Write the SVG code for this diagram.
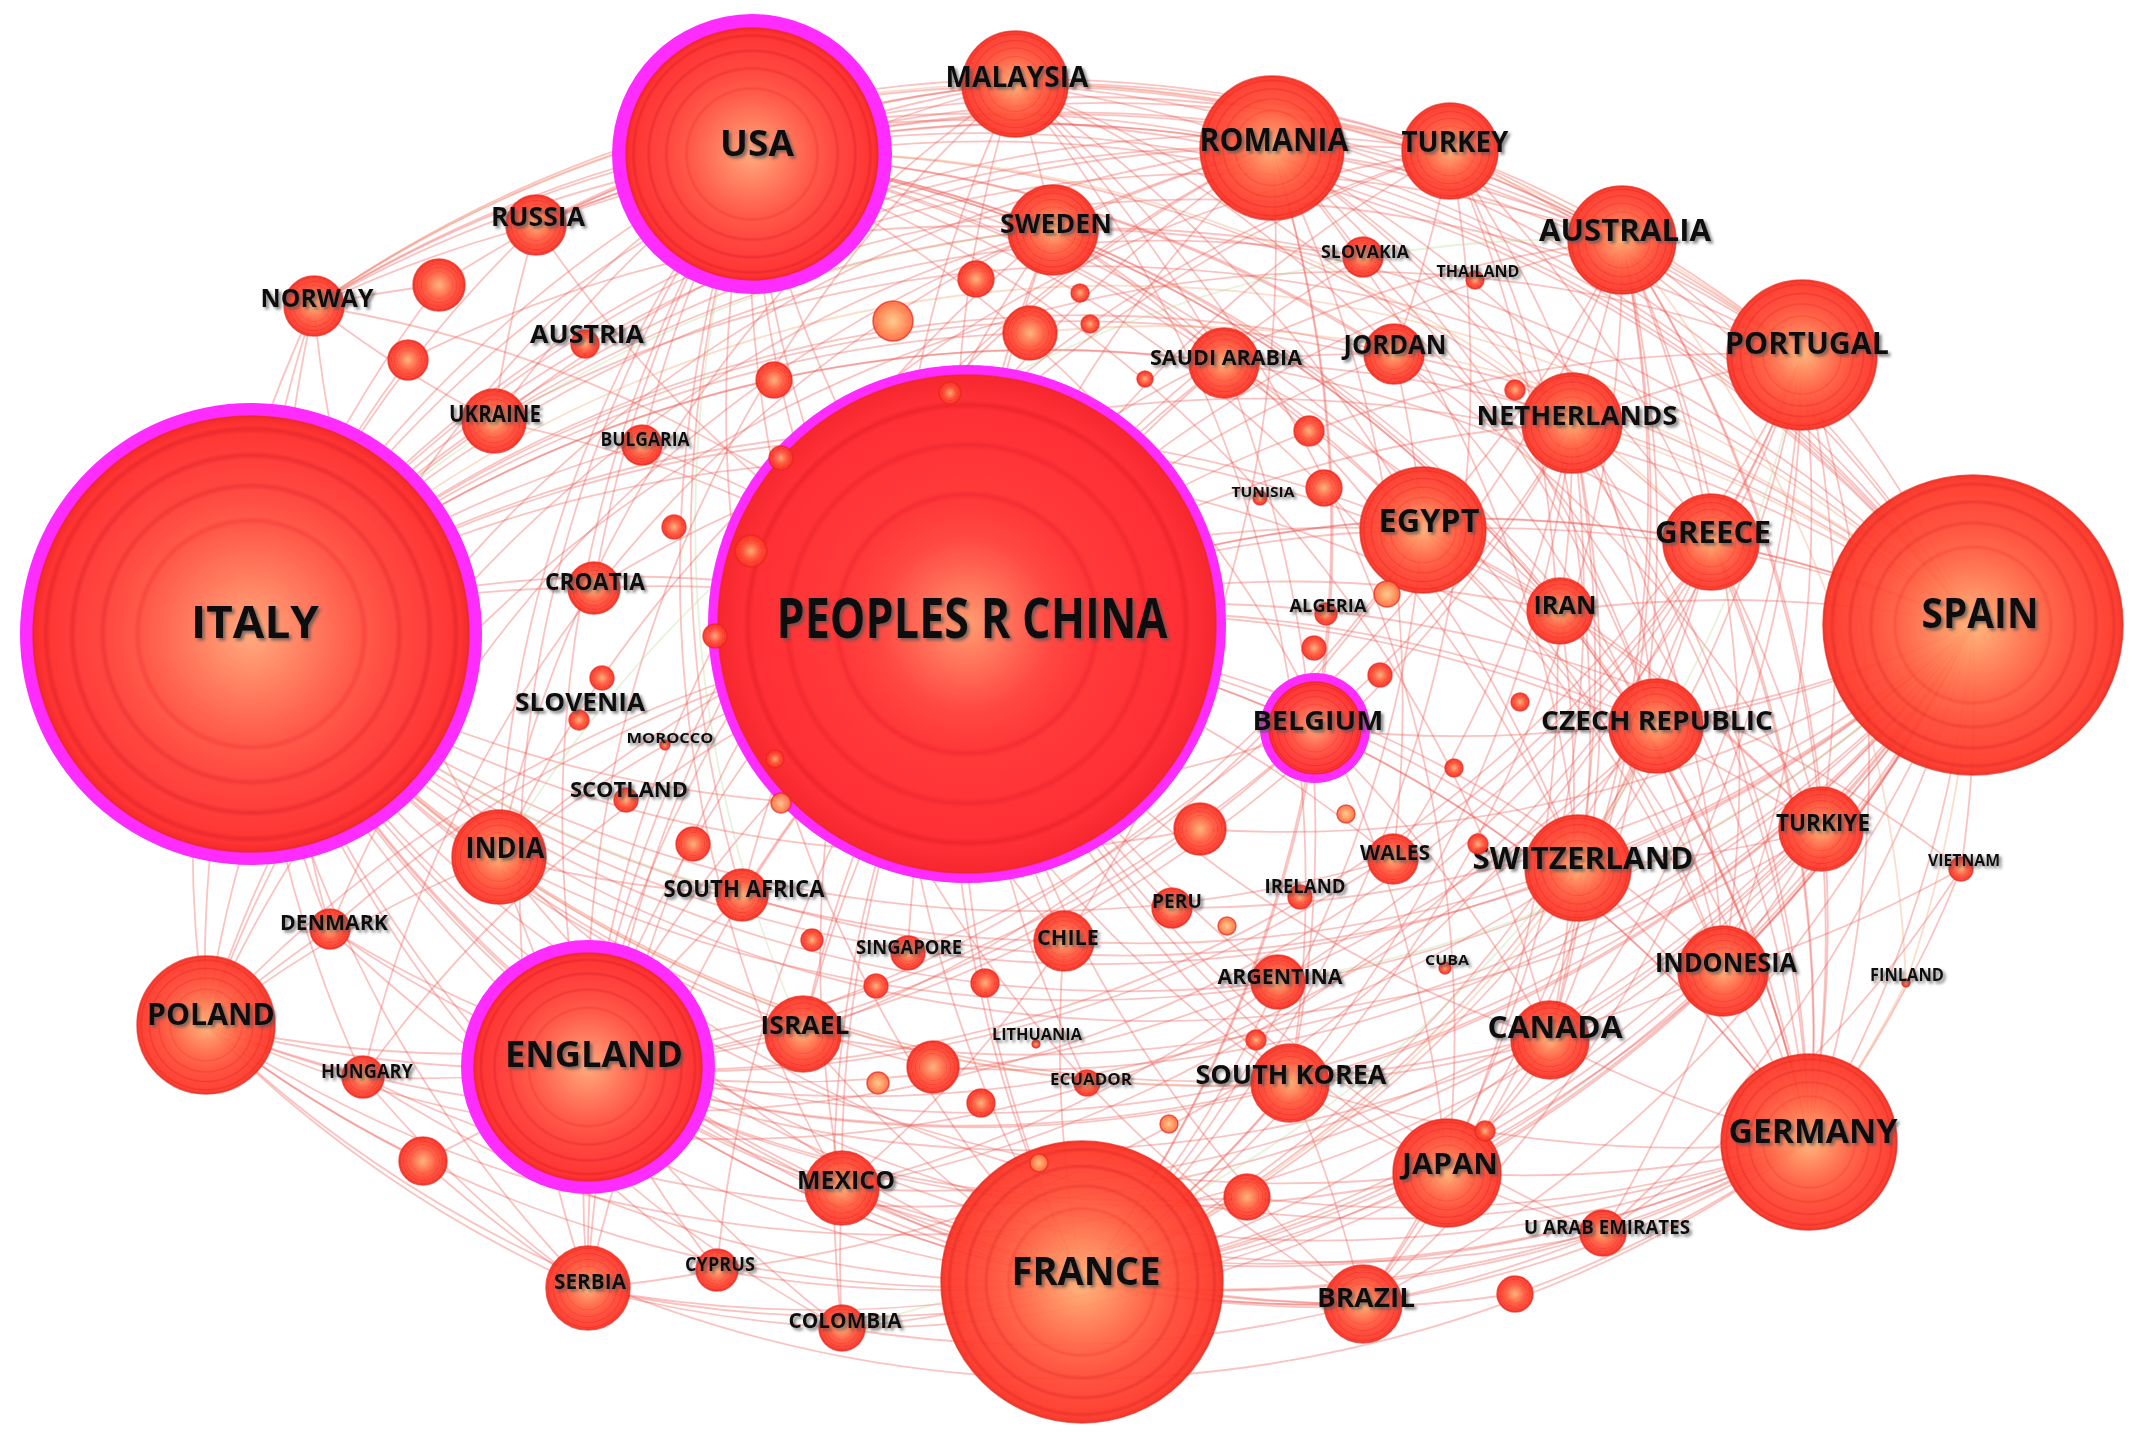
<svg xmlns="http://www.w3.org/2000/svg" width="2139" height="1443" viewBox="0 0 2139 1443">
<defs>
<style>
.e path{fill:none;stroke:#ee5a52;stroke-opacity:.36;stroke-width:1.8}
.e path.o{stroke:#f5a26e}
.e path.g{stroke:#b9dc98}
.n circle{fill:url(#gn);fill-opacity:.94;stroke:#e8281c;stroke-width:1.5;stroke-opacity:.7}
.n circle.m{fill:#ff2cff;fill-opacity:1;stroke:none}
.n circle.c{fill:url(#gc);fill-opacity:.92}
.n circle.or{fill:url(#go)}
.n text{font-family:"Open Sans","DejaVu Sans",sans-serif;font-weight:700;fill:#111;text-anchor:middle;filter:url(#sh)}
</style>
<radialGradient id="gn">
<stop offset="0" stop-color="#ffb47a"/>
<stop offset=".1" stop-color="#ffa06a"/>
<stop offset=".25" stop-color="#ff8558"/>
<stop offset=".4" stop-color="#ff6c48"/>
<stop offset=".5" stop-color="#ff5c3e"/>
<stop offset=".52" stop-color="#f94a34"/>
<stop offset=".54" stop-color="#ff5a3d"/>
<stop offset=".66" stop-color="#ff4b35"/>
<stop offset=".68" stop-color="#f23a2a"/>
<stop offset=".7" stop-color="#ff4832"/>
<stop offset=".8" stop-color="#ff4030"/>
<stop offset=".82" stop-color="#ee3024"/>
<stop offset=".84" stop-color="#ff3e2e"/>
<stop offset=".92" stop-color="#ff3828"/>
<stop offset=".94" stop-color="#ec2a20"/>
<stop offset=".96" stop-color="#ff3526"/>
<stop offset="1" stop-color="#f02a1e"/>
</radialGradient>
<radialGradient id="gc">
<stop offset="0" stop-color="#ffa866"/>
<stop offset=".1" stop-color="#ff8a55"/>
<stop offset=".22" stop-color="#ff6a45"/>
<stop offset=".35" stop-color="#ff4a32"/>
<stop offset=".5" stop-color="#ff3a28"/>
<stop offset=".52" stop-color="#f52e22"/>
<stop offset=".54" stop-color="#ff3a28"/>
<stop offset=".7" stop-color="#ff3526"/>
<stop offset=".72" stop-color="#f22a1e"/>
<stop offset=".74" stop-color="#ff3426"/>
<stop offset=".86" stop-color="#ff3024"/>
<stop offset=".88" stop-color="#ee251a"/>
<stop offset=".9" stop-color="#ff3024"/>
<stop offset="1" stop-color="#f5261c"/>
</radialGradient>
<radialGradient id="go">
<stop offset="0" stop-color="#ffc888"/>
<stop offset=".5" stop-color="#ff9a60"/>
<stop offset="1" stop-color="#ff6a40"/>
</radialGradient>
<filter id="sh" x="-10%" y="-30%" width="125%" height="170%">
<feDropShadow dx="2.5" dy="2.5" stdDeviation="1.4" flood-color="#555" flood-opacity=".75"/>
</filter>
</defs>
<rect width="2139" height="1443" fill="#fff"/>
<g id="connectors" class="e">
<path d="M251 634A1250 1250 0 0 1 967 624"/>
<path d="M967 624A1250 1250 0 0 1 752 154"/>
<path d="M967 624A1250 1250 0 0 1 1973 625"/>
<path d="M1083 1282A1250 1250 0 0 1 967 624"/>
<path d="M588 1067A1250 1250 0 0 1 967 624"/>
<path d="M967 624A1250 1250 0 0 1 1809 1142"/>
<path d="M967 624A1250 1250 0 0 1 1315 728"/>
<path d="M967 624A1250 1250 0 0 1 1272 148"/>
<path d="M967 624A1250 1250 0 0 1 1802 355"/>
<path d="M967 624A1250 1250 0 0 1 1423 530"/>
<path d="M967 624A1250 1250 0 0 1 1622 240"/>
<path d="M967 624A1250 1250 0 0 1 1015 84"/>
<path d="M967 624A1250 1250 0 0 1 1450 151"/>
<path d="M967 624A1250 1250 0 0 1 1053 229"/>
<path d="M967 624A1250 1250 0 0 1 1572 423"/>
<path d="M967 624A1250 1250 0 0 1 1711 542"/>
<path d="M967 624A1250 1250 0 0 1 1560 611"/>
<path d="M967 624A1250 1250 0 0 1 1656 726"/>
<path d="M967 624A1250 1250 0 0 1 1578 868"/>
<path d="M967 624A1250 1250 0 0 1 1821 829"/>
<path d="M967 624A1250 1250 0 0 1 1723 971"/>
<path d="M1550 1040A1250 1250 0 0 1 967 624"/>
<path d="M1447 1173A1250 1250 0 0 1 967 624"/>
<path d="M1363 1304A1250 1250 0 0 1 967 624"/>
<path d="M1290 1083A1250 1250 0 0 1 967 624"/>
<path d="M206 1025A1250 1250 0 0 1 967 624"/>
<path d="M499 857A1250 1250 0 0 1 967 624"/>
<path d="M967 624A1250 1250 0 0 1 536 225"/>
<path d="M314 306A1250 1250 0 0 1 967 624"/>
<path d="M494 421A1250 1250 0 0 1 967 624"/>
<path d="M842 1188A1250 1250 0 0 1 967 624"/>
<path d="M803 1034A1250 1250 0 0 1 967 624"/>
<path d="M588 1288A1250 1250 0 0 1 967 624"/>
<path d="M967 624A1250 1250 0 0 1 1224 363"/>
<path d="M967 624A1250 1250 0 0 1 1394 354"/>
<path d="M1064 941A1250 1250 0 0 1 967 624"/>
<path d="M1278 982A1250 1250 0 0 1 967 624"/>
<path d="M742 895A1250 1250 0 0 1 967 624"/>
<path d="M594 588A1250 1250 0 0 1 967 624"/>
<path d="M642 445A1250 1250 0 0 1 967 624"/>
<path d="M967 624A1250 1250 0 0 1 1363 257"/>
<path d="M967 624A1250 1250 0 0 1 1393 859"/>
<path d="M1172 908A1250 1250 0 0 1 967 624"/>
<path d="M363 1077A1250 1250 0 0 1 967 624"/>
<path d="M330 929A1250 1250 0 0 1 967 624"/>
<path d="M842 1328A1250 1250 0 0 1 967 624"/>
<path d="M717 1270A1250 1250 0 0 1 967 624"/>
<path d="M1603 1233A1250 1250 0 0 1 967 624"/>
<path d="M967 624A1250 1250 0 0 1 1961 869"/>
<path d="M908 953A1250 1250 0 0 1 967 624"/>
<path d="M1087 1083A1250 1250 0 0 1 967 624"/>
<path d="M251 634A1250 1250 0 0 1 752 154"/>
<path class="o" d="M251 634A1250 1250 0 0 1 1973 625"/>
<path d="M1083 1282A1250 1250 0 0 1 251 634"/>
<path d="M588 1067A1250 1250 0 0 1 251 634"/>
<path d="M1809 1142A1250 1250 0 0 1 251 634"/>
<path d="M1315 728A1250 1250 0 0 1 251 634"/>
<path d="M251 634A1250 1250 0 0 1 1272 148"/>
<path d="M251 634A1250 1250 0 0 1 1802 355"/>
<path d="M251 634A1250 1250 0 0 1 1423 530"/>
<path d="M251 634A1250 1250 0 0 1 1622 240"/>
<path d="M251 634A1250 1250 0 0 1 1015 84"/>
<path d="M251 634A1250 1250 0 0 1 1450 151"/>
<path class="g" d="M251 634A1250 1250 0 0 1 1053 229"/>
<path d="M251 634A1250 1250 0 0 1 1572 423"/>
<path d="M251 634A1250 1250 0 0 1 1711 542"/>
<path d="M251 634A1250 1250 0 0 1 1560 611"/>
<path d="M251 634A1250 1250 0 0 1 1656 726"/>
<path d="M1578 868A1250 1250 0 0 1 251 634"/>
<path d="M1821 829A1250 1250 0 0 1 251 634"/>
<path d="M1723 971A1250 1250 0 0 1 251 634"/>
<path d="M1550 1040A1250 1250 0 0 1 251 634"/>
<path d="M1447 1173A1250 1250 0 0 1 251 634"/>
<path d="M1363 1304A1250 1250 0 0 1 251 634"/>
<path class="o" d="M1290 1083A1250 1250 0 0 1 251 634"/>
<path d="M206 1025A1250 1250 0 0 1 251 634"/>
<path d="M499 857A1250 1250 0 0 1 251 634"/>
<path d="M251 634A1250 1250 0 0 1 536 225"/>
<path d="M251 634A1250 1250 0 0 1 314 306"/>
<path d="M251 634A1250 1250 0 0 1 494 421"/>
<path d="M842 1188A1250 1250 0 0 1 251 634"/>
<path d="M803 1034A1250 1250 0 0 1 251 634"/>
<path d="M588 1288A1250 1250 0 0 1 251 634"/>
<path d="M251 634A1250 1250 0 0 1 1224 363"/>
<path d="M251 634A1250 1250 0 0 1 1394 354"/>
<path d="M1064 941A1250 1250 0 0 1 251 634"/>
<path d="M1278 982A1250 1250 0 0 1 251 634"/>
<path class="g" d="M742 895A1250 1250 0 0 1 251 634"/>
<path d="M251 634A1250 1250 0 0 1 594 588"/>
<path d="M251 634A1250 1250 0 0 1 642 445"/>
<path d="M251 634A1250 1250 0 0 1 1363 257"/>
<path d="M1393 859A1250 1250 0 0 1 251 634"/>
<path d="M363 1077A1250 1250 0 0 1 251 634"/>
<path d="M330 929A1250 1250 0 0 1 251 634"/>
<path d="M842 1328A1250 1250 0 0 1 251 634"/>
<path d="M717 1270A1250 1250 0 0 1 251 634"/>
<path d="M1603 1233A1250 1250 0 0 1 251 634"/>
<path d="M752 154A1250 1250 0 0 1 1973 625"/>
<path d="M1973 625A1250 1250 0 0 1 1083 1282"/>
<path d="M1973 625A1250 1250 0 0 1 588 1067"/>
<path d="M1973 625A1250 1250 0 0 1 1809 1142"/>
<path d="M1973 625A1250 1250 0 0 1 1315 728"/>
<path d="M1272 148A1250 1250 0 0 1 1973 625"/>
<path d="M1802 355A1250 1250 0 0 1 1973 625"/>
<path d="M1423 530A1250 1250 0 0 1 1973 625"/>
<path d="M1622 240A1250 1250 0 0 1 1973 625"/>
<path d="M1015 84A1250 1250 0 0 1 1973 625"/>
<path d="M1450 151A1250 1250 0 0 1 1973 625"/>
<path d="M1053 229A1250 1250 0 0 1 1973 625"/>
<path class="o" d="M1572 423A1250 1250 0 0 1 1973 625"/>
<path d="M1711 542A1250 1250 0 0 1 1973 625"/>
<path d="M1560 611A1250 1250 0 0 1 1973 625"/>
<path d="M1973 625A1250 1250 0 0 1 1656 726"/>
<path d="M1973 625A1250 1250 0 0 1 1578 868"/>
<path d="M1973 625A1250 1250 0 0 1 1821 829"/>
<path d="M1973 625A1250 1250 0 0 1 1723 971"/>
<path d="M1973 625A1250 1250 0 0 1 1550 1040"/>
<path d="M1973 625A1250 1250 0 0 1 1447 1173"/>
<path d="M1973 625A1250 1250 0 0 1 1363 1304"/>
<path d="M1973 625A1250 1250 0 0 1 1290 1083"/>
<path d="M1973 625A1250 1250 0 0 1 206 1025"/>
<path d="M1973 625A1250 1250 0 0 1 499 857"/>
<path d="M536 225A1250 1250 0 0 1 1973 625"/>
<path d="M314 306A1250 1250 0 0 1 1973 625"/>
<path d="M494 421A1250 1250 0 0 1 1973 625"/>
<path d="M1973 625A1250 1250 0 0 1 842 1188"/>
<path d="M1973 625A1250 1250 0 0 1 803 1034"/>
<path d="M1973 625A1250 1250 0 0 1 588 1288"/>
<path d="M1224 363A1250 1250 0 0 1 1973 625"/>
<path d="M1394 354A1250 1250 0 0 1 1973 625"/>
<path d="M1973 625A1250 1250 0 0 1 1064 941"/>
<path class="g" d="M1973 625A1250 1250 0 0 1 1278 982"/>
<path d="M1973 625A1250 1250 0 0 1 742 895"/>
<path d="M594 588A1250 1250 0 0 1 1973 625"/>
<path d="M1973 625A1250 1250 0 0 1 363 1077"/>
<path d="M1973 625A1250 1250 0 0 1 330 929"/>
<path d="M1973 625A1250 1250 0 0 1 842 1328"/>
<path d="M1973 625A1250 1250 0 0 1 1603 1233"/>
<path d="M1973 625A1250 1250 0 0 1 1961 869"/>
<path d="M1083 1282A1250 1250 0 0 1 752 154"/>
<path d="M588 1067A1250 1250 0 0 1 752 154"/>
<path d="M752 154A1250 1250 0 0 1 1809 1142"/>
<path d="M752 154A1250 1250 0 0 1 1272 148"/>
<path d="M752 154A1250 1250 0 0 1 1802 355"/>
<path d="M752 154A1250 1250 0 0 1 1423 530"/>
<path d="M752 154A1250 1250 0 0 1 1622 240"/>
<path d="M752 154A1250 1250 0 0 1 1015 84"/>
<path d="M752 154A1250 1250 0 0 1 1450 151"/>
<path d="M752 154A1250 1250 0 0 1 1053 229"/>
<path d="M752 154A1250 1250 0 0 1 1572 423"/>
<path class="o" d="M752 154A1250 1250 0 0 1 1711 542"/>
<path d="M752 154A1250 1250 0 0 1 1560 611"/>
<path d="M752 154A1250 1250 0 0 1 1656 726"/>
<path d="M752 154A1250 1250 0 0 1 1578 868"/>
<path d="M752 154A1250 1250 0 0 1 1821 829"/>
<path d="M752 154A1250 1250 0 0 1 1723 971"/>
<path d="M752 154A1250 1250 0 0 1 1550 1040"/>
<path d="M752 154A1250 1250 0 0 1 1447 1173"/>
<path d="M1363 1304A1250 1250 0 0 1 752 154"/>
<path d="M1290 1083A1250 1250 0 0 1 752 154"/>
<path d="M206 1025A1250 1250 0 0 1 752 154"/>
<path d="M499 857A1250 1250 0 0 1 752 154"/>
<path d="M536 225A1250 1250 0 0 1 752 154"/>
<path d="M314 306A1250 1250 0 0 1 752 154"/>
<path d="M494 421A1250 1250 0 0 1 752 154"/>
<path d="M842 1188A1250 1250 0 0 1 752 154"/>
<path class="g" d="M803 1034A1250 1250 0 0 1 752 154"/>
<path d="M588 1288A1250 1250 0 0 1 752 154"/>
<path d="M752 154A1250 1250 0 0 1 1224 363"/>
<path d="M752 154A1250 1250 0 0 1 1394 354"/>
<path d="M1064 941A1250 1250 0 0 1 752 154"/>
<path d="M742 895A1250 1250 0 0 1 752 154"/>
<path d="M594 588A1250 1250 0 0 1 752 154"/>
<path d="M642 445A1250 1250 0 0 1 752 154"/>
<path d="M1083 1282A1250 1250 0 0 1 588 1067"/>
<path d="M1809 1142A1250 1250 0 0 1 1083 1282"/>
<path d="M1315 728A1250 1250 0 0 1 1083 1282"/>
<path d="M1272 148A1250 1250 0 0 1 1083 1282"/>
<path d="M1802 355A1250 1250 0 0 1 1083 1282"/>
<path d="M1423 530A1250 1250 0 0 1 1083 1282"/>
<path d="M1622 240A1250 1250 0 0 1 1083 1282"/>
<path d="M1083 1282A1250 1250 0 0 1 1015 84"/>
<path d="M1450 151A1250 1250 0 0 1 1083 1282"/>
<path d="M1083 1282A1250 1250 0 0 1 1053 229"/>
<path d="M1572 423A1250 1250 0 0 1 1083 1282"/>
<path d="M1711 542A1250 1250 0 0 1 1083 1282"/>
<path d="M1656 726A1250 1250 0 0 1 1083 1282"/>
<path class="o" d="M1578 868A1250 1250 0 0 1 1083 1282"/>
<path d="M1821 829A1250 1250 0 0 1 1083 1282"/>
<path d="M1723 971A1250 1250 0 0 1 1083 1282"/>
<path d="M1550 1040A1250 1250 0 0 1 1083 1282"/>
<path d="M1447 1173A1250 1250 0 0 1 1083 1282"/>
<path d="M1363 1304A1250 1250 0 0 1 1083 1282"/>
<path d="M1290 1083A1250 1250 0 0 1 1083 1282"/>
<path d="M1083 1282A1250 1250 0 0 1 206 1025"/>
<path d="M1083 1282A1250 1250 0 0 1 499 857"/>
<path d="M1083 1282A1250 1250 0 0 1 842 1188"/>
<path d="M1083 1282A1250 1250 0 0 1 803 1034"/>
<path d="M1083 1282A1250 1250 0 0 1 588 1288"/>
<path d="M1083 1282A1250 1250 0 0 1 1064 941"/>
<path d="M1278 982A1250 1250 0 0 1 1083 1282"/>
<path d="M1083 1282A1250 1250 0 0 1 842 1328"/>
<path d="M1083 1282A1250 1250 0 0 1 717 1270"/>
<path d="M1603 1233A1250 1250 0 0 1 1083 1282"/>
<path d="M1083 1282A1250 1250 0 0 1 363 1077"/>
<path d="M1083 1282A1250 1250 0 0 1 330 929"/>
<path d="M1809 1142A1250 1250 0 0 1 588 1067"/>
<path d="M1315 728A1250 1250 0 0 1 588 1067"/>
<path d="M588 1067A1250 1250 0 0 1 1272 148"/>
<path d="M1802 355A1250 1250 0 0 1 588 1067"/>
<path d="M1423 530A1250 1250 0 0 1 588 1067"/>
<path d="M588 1067A1250 1250 0 0 1 1622 240"/>
<path d="M588 1067A1250 1250 0 0 1 1015 84"/>
<path d="M588 1067A1250 1250 0 0 1 1450 151"/>
<path d="M588 1067A1250 1250 0 0 1 1053 229"/>
<path d="M1572 423A1250 1250 0 0 1 588 1067"/>
<path d="M1711 542A1250 1250 0 0 1 588 1067"/>
<path d="M1656 726A1250 1250 0 0 1 588 1067"/>
<path d="M1578 868A1250 1250 0 0 1 588 1067"/>
<path d="M1550 1040A1250 1250 0 0 1 588 1067"/>
<path d="M1447 1173A1250 1250 0 0 1 588 1067"/>
<path d="M1363 1304A1250 1250 0 0 1 588 1067"/>
<path d="M1290 1083A1250 1250 0 0 1 588 1067"/>
<path d="M588 1067A1250 1250 0 0 1 206 1025"/>
<path d="M588 1067A1250 1250 0 0 1 499 857"/>
<path d="M842 1188A1250 1250 0 0 1 588 1067"/>
<path d="M803 1034A1250 1250 0 0 1 588 1067"/>
<path d="M588 1288A1250 1250 0 0 1 588 1067"/>
<path d="M588 1067A1250 1250 0 0 1 742 895"/>
<path d="M588 1067A1250 1250 0 0 1 363 1077"/>
<path d="M588 1067A1250 1250 0 0 1 330 929"/>
<path d="M717 1270A1250 1250 0 0 1 588 1067"/>
<path d="M842 1328A1250 1250 0 0 1 588 1067"/>
<path d="M1315 728A1250 1250 0 0 1 1809 1142"/>
<path d="M1272 148A1250 1250 0 0 1 1809 1142"/>
<path d="M1802 355A1250 1250 0 0 1 1809 1142"/>
<path d="M1423 530A1250 1250 0 0 1 1809 1142"/>
<path d="M1622 240A1250 1250 0 0 1 1809 1142"/>
<path d="M1015 84A1250 1250 0 0 1 1809 1142"/>
<path d="M1450 151A1250 1250 0 0 1 1809 1142"/>
<path d="M1053 229A1250 1250 0 0 1 1809 1142"/>
<path d="M1572 423A1250 1250 0 0 1 1809 1142"/>
<path d="M1711 542A1250 1250 0 0 1 1809 1142"/>
<path d="M1560 611A1250 1250 0 0 1 1809 1142"/>
<path d="M1656 726A1250 1250 0 0 1 1809 1142"/>
<path d="M1578 868A1250 1250 0 0 1 1809 1142"/>
<path d="M1821 829A1250 1250 0 0 1 1809 1142"/>
<path d="M1723 971A1250 1250 0 0 1 1809 1142"/>
<path d="M1809 1142A1250 1250 0 0 1 1550 1040"/>
<path d="M1809 1142A1250 1250 0 0 1 1447 1173"/>
<path d="M1809 1142A1250 1250 0 0 1 1363 1304"/>
<path d="M1809 1142A1250 1250 0 0 1 1290 1083"/>
<path d="M1809 1142A1250 1250 0 0 1 206 1025"/>
<path d="M1809 1142A1250 1250 0 0 1 499 857"/>
<path d="M1809 1142A1250 1250 0 0 1 842 1188"/>
<path d="M1961 869A1250 1250 0 0 1 1809 1142"/>
<path d="M1809 1142A1250 1250 0 0 1 1603 1233"/>
<path d="M1272 148A1250 1250 0 0 1 1802 355"/>
<path d="M1272 148A1250 1250 0 0 1 1622 240"/>
<path d="M1272 148A1250 1250 0 0 1 1450 151"/>
<path d="M1053 229A1250 1250 0 0 1 1272 148"/>
<path d="M1015 84A1250 1250 0 0 1 1272 148"/>
<path d="M1272 148A1250 1250 0 0 1 1572 423"/>
<path d="M206 1025A1250 1250 0 0 1 1272 148"/>
<path d="M1622 240A1250 1250 0 0 1 1802 355"/>
<path d="M1572 423A1250 1250 0 0 1 1802 355"/>
<path d="M1802 355A1250 1250 0 0 1 1711 542"/>
<path d="M1802 355A1250 1250 0 0 1 1363 1304"/>
<path d="M1450 151A1250 1250 0 0 1 1802 355"/>
<path d="M1450 151A1250 1250 0 0 1 1622 240"/>
<path d="M1622 240A1250 1250 0 0 1 1572 423"/>
<path d="M1622 240A1250 1250 0 0 1 1723 971"/>
<path d="M1015 84A1250 1250 0 0 1 1053 229"/>
<path d="M1015 84A1250 1250 0 0 1 1450 151"/>
<path d="M1015 84A1250 1250 0 0 1 1622 240"/>
<path d="M1015 84A1250 1250 0 0 1 1723 971"/>
<path d="M1224 363A1250 1250 0 0 1 1423 530"/>
<path d="M1394 354A1250 1250 0 0 1 1423 530"/>
<path d="M1423 530A1250 1250 0 0 1 1821 829"/>
<path d="M1423 530A1250 1250 0 0 1 1560 611"/>
<path d="M206 1025A1250 1250 0 0 1 314 306"/>
<path d="M314 306A1250 1250 0 0 1 536 225"/>
<path d="M494 421A1250 1250 0 0 1 314 306"/>
<path d="M499 857A1250 1250 0 0 1 314 306"/>
<path d="M330 929A1250 1250 0 0 1 314 306"/>
<path d="M363 1077A1250 1250 0 0 1 206 1025"/>
<path d="M206 1025A1250 1250 0 0 1 330 929"/>
<path d="M206 1025A1250 1250 0 0 1 499 857"/>
<path d="M588 1288A1250 1250 0 0 1 206 1025"/>
<path d="M717 1270A1250 1250 0 0 1 588 1288"/>
<path d="M588 1288A1250 1250 0 0 1 363 1077"/>
<path d="M842 1328A1250 1250 0 0 1 842 1188"/>
<path d="M1064 941A1250 1250 0 0 1 842 1188"/>
<path d="M1278 982A1250 1250 0 0 1 842 1188"/>
<path d="M1363 1304A1250 1250 0 0 1 842 1188"/>
<path d="M1550 1040A1250 1250 0 0 1 1447 1173"/>
<path d="M1447 1173A1250 1250 0 0 1 1290 1083"/>
<path d="M1447 1173A1250 1250 0 0 1 1363 1304"/>
<path d="M1603 1233A1250 1250 0 0 1 1447 1173"/>
<path d="M1290 1083A1250 1250 0 0 1 1363 1304"/>
<path d="M1572 423A1250 1250 0 0 1 1578 868"/>
<path d="M1656 726A1250 1250 0 0 1 1578 868"/>
<path d="M1821 829A1250 1250 0 0 1 1578 868"/>
<path d="M1711 542A1250 1250 0 0 1 1821 829"/>
<path d="M1821 829A1250 1250 0 0 1 1723 971"/>
<path d="M1961 869A1250 1250 0 0 1 1723 971"/>
<path d="M1656 726A1250 1250 0 0 1 206 1025"/>
<path d="M1224 363A1250 1250 0 0 1 1394 354"/>
<path d="M494 421A1250 1250 0 0 1 536 225"/>
<path d="M742 895A1250 1250 0 0 1 499 857"/>
<path d="M842 1328A1250 1250 0 0 1 588 1288"/>
<path d="M1363 1304A1250 1250 0 0 1 842 1328"/>
<path d="M1603 1233A1250 1250 0 0 1 1363 1304"/>
<path d="M1961 869A1250 1250 0 0 1 1603 1233"/>
<path d="M1723 971A1250 1250 0 0 1 1603 1233"/>
<path class="o" d="M1973 625A1250 1250 0 0 1 1906 983"/>
<path class="o" d="M1906 983A1250 1250 0 0 1 1809 1142"/>
<path class="o" d="M1622 240A1250 1250 0 0 1 1906 983"/>
<path d="M1809 1142A1250 1250 0 0 1 1515 1294"/>
<path d="M1515 1294A1250 1250 0 0 1 1083 1282"/>
<path d="M588 1067A1250 1250 0 0 1 423 1161"/>
<path d="M423 1161A1250 1250 0 0 1 206 1025"/>
<path d="M588 1288A1250 1250 0 0 1 423 1161"/>
<path d="M314 306A1250 1250 0 0 1 439 285"/>
<path d="M251 634A1250 1250 0 0 1 439 285"/>
<path d="M251 634A1250 1250 0 0 1 408 360"/>
<path d="M314 306A1250 1250 0 0 1 1450 151"/>
<path d="M314 306A1250 1250 0 0 1 1272 148"/>
<path d="M314 306A1250 1250 0 0 1 1622 240"/>
<path class="o" d="M314 306A1250 1250 0 0 1 1802 355"/>
<path d="M536 225A1250 1250 0 0 1 1272 148"/>
<path d="M536 225A1250 1250 0 0 1 1450 151"/>
<path d="M536 225A1250 1250 0 0 1 1015 84"/>
<path d="M494 421A1250 1250 0 0 1 1053 229"/>
<path d="M494 421A1250 1250 0 0 1 1272 148"/>
<path d="M206 1025A1250 1250 0 0 1 1053 229"/>
<path d="M206 1025A1250 1250 0 0 1 1802 355"/>
<path d="M1711 542A1250 1250 0 0 1 206 1025"/>
<path d="M499 857A1250 1250 0 0 1 1015 84"/>
<path d="M499 857A1250 1250 0 0 1 1450 151"/>
<path class="g" d="M499 857A1250 1250 0 0 1 1622 240"/>
<path d="M499 857A1250 1250 0 0 1 1423 530"/>
<path d="M363 1077A1250 1250 0 0 1 1272 148"/>
<path d="M330 929A1250 1250 0 0 1 1053 229"/>
<path d="M588 1288A1250 1250 0 0 1 1272 148"/>
<path d="M588 1288A1250 1250 0 0 1 1450 151"/>
<path d="M1802 355A1250 1250 0 0 1 842 1188"/>
<path d="M842 1188A1250 1250 0 0 1 1053 229"/>
<path d="M803 1034A1250 1250 0 0 1 1224 363"/>
<path d="M1423 530A1250 1250 0 0 1 803 1034"/>
<path d="M1272 148A1250 1250 0 0 1 1064 941"/>
<path d="M1622 240A1250 1250 0 0 1 1363 1304"/>
<path d="M1572 423A1250 1250 0 0 1 1363 1304"/>
<path d="M1450 151A1250 1250 0 0 1 1447 1173"/>
<path d="M1622 240A1250 1250 0 0 1 1447 1173"/>
<path d="M1802 355A1250 1250 0 0 1 1447 1173"/>
<path d="M1015 84A1250 1250 0 0 1 1447 1173"/>
<path d="M1015 84A1250 1250 0 0 1 1290 1083"/>
<path d="M1224 363A1250 1250 0 0 1 1290 1083"/>
<path d="M1622 240A1250 1250 0 0 1 1550 1040"/>
<path d="M1572 423A1250 1250 0 0 1 1550 1040"/>
<path d="M1450 151A1250 1250 0 0 1 1550 1040"/>
<path d="M1560 611A1250 1250 0 0 1 1550 1040"/>
<path d="M1272 148A1250 1250 0 0 1 1578 868"/>
<path d="M1053 229A1250 1250 0 0 1 1578 868"/>
<path d="M1711 542A1250 1250 0 0 1 1578 868"/>
<path d="M1272 148A1250 1250 0 0 1 1656 726"/>
<path d="M1363 257A1250 1250 0 0 1 1656 726"/>
<path d="M1450 151A1250 1250 0 0 1 1656 726"/>
<path d="M1622 240A1250 1250 0 0 1 1821 829"/>
<path d="M1802 355A1250 1250 0 0 1 1821 829"/>
<path d="M1560 611A1250 1250 0 0 1 1821 829"/>
<path d="M1802 355A1250 1250 0 0 1 1723 971"/>
<path d="M1572 423A1250 1250 0 0 1 1723 971"/>
<path d="M1423 530A1250 1250 0 0 1 1723 971"/>
<path d="M1572 423A1250 1250 0 0 1 1711 542"/>
<path d="M1622 240A1250 1250 0 0 1 1711 542"/>
<path d="M1272 148A1250 1250 0 0 1 1711 542"/>
<path d="M1015 84A1250 1250 0 0 1 1423 530"/>
<path d="M1622 240A1250 1250 0 0 1 1423 530"/>
<path d="M1450 151A1250 1250 0 0 1 1394 354"/>
<path d="M1053 229A1250 1250 0 0 1 1224 363"/>
<path d="M1015 84A1250 1250 0 0 1 1224 363"/>
<path d="M1053 229A1250 1250 0 0 1 1363 257"/>
<path d="M1272 148A1250 1250 0 0 1 1363 257"/>
<path d="M1572 423A1250 1250 0 0 1 1560 611"/>
<path d="M1224 363A1250 1250 0 0 1 1560 611"/>
<path d="M1572 423A1250 1250 0 0 1 1315 728"/>
<path d="M1272 148A1250 1250 0 0 1 1315 728"/>
<path d="M1315 728A1250 1250 0 0 1 206 1025"/>
<path d="M1315 728A1250 1250 0 0 1 1550 1040"/>
<path d="M1572 423A1250 1250 0 0 1 1393 859"/>
<path d="M1272 148A1250 1250 0 0 1 1393 859"/>
<path d="M1973 625A1250 1250 0 0 1 1172 908"/>
<path d="M1802 355A1250 1250 0 0 1 1278 982"/>
<path class="g" d="M1802 355A1250 1250 0 0 1 842 1328"/>
<path d="M1711 542A1250 1250 0 0 1 717 1270"/>
<path d="M742 895A1250 1250 0 0 1 1272 148"/>
<path d="M1622 240A1250 1250 0 0 1 908 953"/>
<path d="M439 285A1250 1250 0 0 1 1015 84"/>
<path d="M408 360A1250 1250 0 0 1 1053 229"/>
<path class="o" d="M1030 333A1250 1250 0 0 1 1973 625"/>
<path d="M251 634A1250 1250 0 0 1 1030 333"/>
<path d="M1973 625A1250 1250 0 0 1 1200 829"/>
<path d="M1200 829A1250 1250 0 0 1 251 634"/>
<path d="M1809 1142A1250 1250 0 0 1 1247 1197"/>
<path d="M1247 1197A1250 1250 0 0 1 588 1067"/>
<path d="M933 1067A1250 1250 0 0 1 251 634"/>
<path d="M1973 625A1250 1250 0 0 1 933 1067"/>
</g>
<g id="nodes">
<g id="n-china" class="n"><circle class="m" cx="967" cy="624" r="259"/><circle class="c" cx="967" cy="624" r="249"/><text x="972" y="638" font-size="55" textLength="391" lengthAdjust="spacingAndGlyphs">PEOPLES R CHINA</text></g>
<g id="n-italy" class="n"><circle class="m" cx="251" cy="634" r="231"/><circle cx="251" cy="634" r="218"/><text x="255" y="638" font-size="45" textLength="128" lengthAdjust="spacingAndGlyphs">ITALY</text></g>
<g id="n-spain" class="n"><circle cx="1973" cy="625" r="150"/><text x="1980" y="628" font-size="41" textLength="117" lengthAdjust="spacingAndGlyphs">SPAIN</text></g>
<g id="n-france" class="n"><circle cx="1082" cy="1282" r="141"/><text x="1086" y="1285" font-size="39" textLength="149" lengthAdjust="spacingAndGlyphs">FRANCE</text></g>
<g id="n-usa" class="n"><circle class="m" cx="752" cy="154" r="140"/><circle cx="752" cy="154" r="126"/><text x="757" y="156" font-size="35" textLength="74" lengthAdjust="spacingAndGlyphs">USA</text></g>
<g id="n-england" class="n"><circle class="m" cx="588" cy="1067" r="127"/><circle cx="588" cy="1067" r="114"/><text x="594" y="1067" font-size="36" textLength="178" lengthAdjust="spacingAndGlyphs">ENGLAND</text></g>
<g id="n-germany" class="n"><circle cx="1809" cy="1142" r="88"/><text x="1813" y="1143" font-size="34" textLength="169" lengthAdjust="spacingAndGlyphs">GERMANY</text></g>
<g id="n-portugal" class="n"><circle cx="1802" cy="355" r="75"/><text x="1807" y="354" font-size="30" textLength="164" lengthAdjust="spacingAndGlyphs">PORTUGAL</text></g>
<g id="n-romania" class="n"><circle cx="1272" cy="148" r="72"/><text x="1274" y="151" font-size="32" textLength="149" lengthAdjust="spacingAndGlyphs">ROMANIA</text></g>
<g id="n-poland" class="n"><circle cx="206" cy="1025" r="69"/><text x="211" y="1025" font-size="30" textLength="128" lengthAdjust="spacingAndGlyphs">POLAND</text></g>
<g id="n-egypt" class="n"><circle cx="1423" cy="530" r="63"/><text x="1429" y="532" font-size="32" textLength="101" lengthAdjust="spacingAndGlyphs">EGYPT</text></g>
<g id="n-belgium" class="n"><circle class="m" cx="1315" cy="728" r="55"/><circle cx="1315" cy="728" r="46"/><text x="1318" y="730" font-size="27" textLength="131" lengthAdjust="spacingAndGlyphs">BELGIUM</text></g>
<g id="n-malaysia" class="n"><circle cx="1015" cy="84" r="53"/><text x="1017" y="87" font-size="28" textLength="143" lengthAdjust="spacingAndGlyphs">MALAYSIA</text></g>
<g id="n-australia" class="n"><circle cx="1622" cy="240" r="54"/><text x="1625" y="241" font-size="30" textLength="172" lengthAdjust="spacingAndGlyphs">AUSTRALIA</text></g>
<g id="n-switzerland" class="n"><circle cx="1578" cy="868" r="53"/><text x="1583" y="869" font-size="30" textLength="221" lengthAdjust="spacingAndGlyphs">SWITZERLAND</text></g>
<g id="n-japan" class="n"><circle cx="1447" cy="1173" r="54"/><text x="1450" y="1174" font-size="28" textLength="96" lengthAdjust="spacingAndGlyphs">JAPAN</text></g>
<g id="n-netherlands" class="n"><circle cx="1572" cy="423" r="50"/><text x="1577" y="425" font-size="27" textLength="201" lengthAdjust="spacingAndGlyphs">NETHERLANDS</text></g>
<g id="n-turkey" class="n"><circle cx="1450" cy="151" r="48"/><text x="1455" y="152" font-size="28" textLength="107" lengthAdjust="spacingAndGlyphs">TURKEY</text></g>
<g id="n-greece" class="n"><circle cx="1711" cy="542" r="48"/><text x="1713" y="543" font-size="30" textLength="116" lengthAdjust="spacingAndGlyphs">GREECE</text></g>
<g id="n-india" class="n"><circle cx="499" cy="857" r="47"/><text x="505" y="858" font-size="28" textLength="79" lengthAdjust="spacingAndGlyphs">INDIA</text></g>
<g id="n-czech" class="n"><circle cx="1656" cy="726" r="47"/><text x="1657" y="730" font-size="26" textLength="232" lengthAdjust="spacingAndGlyphs">CZECH REPUBLIC</text></g>
<g id="n-sweden" class="n"><circle cx="1053" cy="230" r="45"/><text x="1056" y="233" font-size="27" textLength="112" lengthAdjust="spacingAndGlyphs">SWEDEN</text></g>
<g id="n-indonesia" class="n"><circle cx="1723" cy="971" r="45"/><text x="1726" y="972" font-size="27" textLength="142" lengthAdjust="spacingAndGlyphs">INDONESIA</text></g>
<g id="n-turkiye" class="n"><circle cx="1821" cy="829" r="42"/><text x="1823" y="831" font-size="23" textLength="94" lengthAdjust="spacingAndGlyphs">TURKIYE</text></g>
<g id="n-serbia" class="n"><circle cx="588" cy="1288" r="42"/><text x="590" y="1289" font-size="22" textLength="72" lengthAdjust="spacingAndGlyphs">SERBIA</text></g>
<g id="n-canada" class="n"><circle cx="1550" cy="1040" r="39"/><text x="1555" y="1038" font-size="30" textLength="135" lengthAdjust="spacingAndGlyphs">CANADA</text></g>
<g id="n-southkorea" class="n"><circle cx="1290" cy="1083" r="39"/><text x="1291" y="1084" font-size="27" textLength="191" lengthAdjust="spacingAndGlyphs">SOUTH KOREA</text></g>
<g id="n-brazil" class="n"><circle cx="1363" cy="1304" r="39"/><text x="1366" y="1307" font-size="27" textLength="98" lengthAdjust="spacingAndGlyphs">BRAZIL</text></g>
<g id="n-israel" class="n"><circle cx="803" cy="1034" r="38"/><text x="805" y="1034" font-size="25" textLength="89" lengthAdjust="spacingAndGlyphs">ISRAEL</text></g>
<g id="n-mexico" class="n"><circle cx="842" cy="1188" r="37"/><text x="846" y="1189" font-size="25" textLength="98" lengthAdjust="spacingAndGlyphs">MEXICO</text></g>
<g id="n-saudi" class="n"><circle cx="1224" cy="363" r="35"/><text x="1226" y="365" font-size="22" textLength="152" lengthAdjust="spacingAndGlyphs">SAUDI ARABIA</text></g>
<g id="n-iran" class="n"><circle cx="1560" cy="611" r="33"/><text x="1565" y="614" font-size="25" textLength="63" lengthAdjust="spacingAndGlyphs">IRAN</text></g>
<g id="n-ukraine" class="n"><circle cx="494" cy="421" r="32"/><text x="495" y="422" font-size="23" textLength="92" lengthAdjust="spacingAndGlyphs">UKRAINE</text></g>
<g id="n-jordan" class="n"><circle cx="1394" cy="354" r="30"/><text x="1395" y="354" font-size="26" textLength="103" lengthAdjust="spacingAndGlyphs">JORDAN</text></g>
<g id="n-chile" class="n"><circle cx="1064" cy="941" r="30"/><text x="1068" y="945" font-size="22" textLength="62" lengthAdjust="spacingAndGlyphs">CHILE</text></g>
<g id="n-russia" class="n"><circle cx="536" cy="225" r="30"/><text x="538" y="226" font-size="26" textLength="94" lengthAdjust="spacingAndGlyphs">RUSSIA</text></g>
<g id="n-norway" class="n"><circle cx="314" cy="306" r="30"/><text x="317" y="307" font-size="25" textLength="113" lengthAdjust="spacingAndGlyphs">NORWAY</text></g>
<g id="n-argentina" class="n"><circle cx="1278" cy="982" r="27"/><text x="1280" y="984" font-size="22" textLength="125" lengthAdjust="spacingAndGlyphs">ARGENTINA</text></g>
<g id="n-croatia" class="n"><circle cx="594" cy="588" r="26"/><text x="595" y="590" font-size="23" textLength="100" lengthAdjust="spacingAndGlyphs">CROATIA</text></g>
<g id="n-southafrica" class="n"><circle cx="742" cy="895" r="26"/><text x="744" y="897" font-size="23" textLength="161" lengthAdjust="spacingAndGlyphs">SOUTH AFRICA</text></g>
<g id="n-wales" class="n"><circle cx="1393" cy="859" r="25"/><text x="1395" y="860" font-size="21" textLength="70" lengthAdjust="spacingAndGlyphs">WALES</text></g>
<g id="n-colombia" class="n"><circle cx="842" cy="1328" r="23"/><text x="845" y="1328" font-size="22" textLength="113" lengthAdjust="spacingAndGlyphs">COLOMBIA</text></g>
<g id="n-uae" class="n"><circle cx="1603" cy="1233" r="23"/><text x="1607" y="1234" font-size="19" textLength="166" lengthAdjust="spacingAndGlyphs">U ARAB EMIRATES</text></g>
<g id="n-cyprus" class="n"><circle cx="717" cy="1270" r="21"/><text x="720" y="1271" font-size="19" textLength="70" lengthAdjust="spacingAndGlyphs">CYPRUS</text></g>
<g id="n-hungary" class="n"><circle cx="363" cy="1077" r="21"/><text x="367" y="1078" font-size="19" textLength="92" lengthAdjust="spacingAndGlyphs">HUNGARY</text></g>
<g id="n-bulgaria" class="n"><circle cx="642" cy="445" r="20"/><text x="645" y="446" font-size="20" textLength="89" lengthAdjust="spacingAndGlyphs">BULGARIA</text></g>
<g id="n-slovakia" class="n"><circle cx="1363" cy="257" r="20"/><text x="1365" y="258" font-size="18" textLength="88" lengthAdjust="spacingAndGlyphs">SLOVAKIA</text></g>
<g id="n-denmark" class="n"><circle cx="330" cy="929" r="20"/><text x="334" y="930" font-size="21" textLength="108" lengthAdjust="spacingAndGlyphs">DENMARK</text></g>
<g id="n-peru" class="n"><circle cx="1172" cy="908" r="20"/><text x="1177" y="908" font-size="19" textLength="50" lengthAdjust="spacingAndGlyphs">PERU</text></g>
<g id="n-singapore" class="n"><circle cx="908" cy="953" r="17"/><text x="909" y="954" font-size="19" textLength="106" lengthAdjust="spacingAndGlyphs">SINGAPORE</text></g>
<g id="n-austria" class="n"><circle cx="585" cy="344" r="14"/><text x="587" y="343" font-size="25" textLength="114" lengthAdjust="spacingAndGlyphs">AUSTRIA</text></g>
<g id="n-ecuador" class="n"><circle cx="1087" cy="1083" r="13"/><text x="1091" y="1085" font-size="16" textLength="82" lengthAdjust="spacingAndGlyphs">ECUADOR</text></g>
<g id="n-vietnam" class="n"><circle cx="1961" cy="869" r="12"/><text x="1964" y="866" font-size="16" textLength="72" lengthAdjust="spacingAndGlyphs">VIETNAM</text></g>
<g id="n-ireland" class="n"><circle cx="1300" cy="897" r="12"/><text x="1305" y="893" font-size="19" textLength="81" lengthAdjust="spacingAndGlyphs">IRELAND</text></g>
<g id="n-algeria" class="n"><circle cx="1326" cy="614" r="11"/><text x="1328" y="612" font-size="18" textLength="77" lengthAdjust="spacingAndGlyphs">ALGERIA</text></g>
<g id="n-scotland" class="n"><circle cx="626" cy="800" r="12"/><text x="629" y="797" font-size="21" textLength="118" lengthAdjust="spacingAndGlyphs">SCOTLAND</text></g>
<g id="n-slovenia" class="n"><circle cx="579" cy="720" r="10"/><text x="580" y="711" font-size="25" textLength="130" lengthAdjust="spacingAndGlyphs">SLOVENIA</text></g>
<g id="n-thailand" class="n"><circle cx="1475" cy="280" r="9"/><text x="1478" y="277" font-size="16" textLength="83" lengthAdjust="spacingAndGlyphs">THAILAND</text></g>
<g id="n-tunisia" class="n"><circle cx="1260" cy="498" r="7"/><text x="1263" y="497" font-size="15" textLength="63" lengthAdjust="spacingAndGlyphs">TUNISIA</text></g>
<g id="n-cuba" class="n"><circle cx="1445" cy="968" r="6"/><text x="1447" y="965" font-size="15" textLength="44" lengthAdjust="spacingAndGlyphs">CUBA</text></g>
<g id="n-morocco" class="n"><circle cx="665" cy="745" r="5"/><text x="670" y="743" font-size="14" textLength="87" lengthAdjust="spacingAndGlyphs">MOROCCO</text></g>
<g id="n-lithuania" class="n"><circle cx="1036" cy="1044" r="4"/><text x="1037" y="1040" font-size="16" textLength="90" lengthAdjust="spacingAndGlyphs">LITHUANIA</text></g>
<g id="n-finland" class="n"><circle cx="1906" cy="983" r="4"/><text x="1907" y="981" font-size="17" textLength="74" lengthAdjust="spacingAndGlyphs">FINLAND</text></g>
<g id="n-s1" class="n"><circle cx="439" cy="285" r="26"/></g>
<g id="n-s2" class="n"><circle cx="408" cy="360" r="20"/></g>
<g id="n-s3" class="n"><circle cx="774" cy="380" r="18"/></g>
<g id="n-s4" class="n"><circle class="or" cx="893" cy="321" r="20"/></g>
<g id="n-s5" class="n"><circle cx="976" cy="279" r="18"/></g>
<g id="n-s6" class="n"><circle cx="1030" cy="333" r="27"/></g>
<g id="n-s7" class="n"><circle cx="674" cy="527" r="12"/></g>
<g id="n-s8" class="n"><circle cx="602" cy="678" r="12"/></g>
<g id="n-s9" class="n"><circle cx="1080" cy="293" r="9"/></g>
<g id="n-s10" class="n"><circle cx="1090" cy="324" r="9"/></g>
<g id="n-s11" class="n"><circle cx="1145" cy="379" r="8"/></g>
<g id="n-s12" class="n"><circle cx="1515" cy="390" r="10"/></g>
<g id="n-s13" class="n"><circle cx="1309" cy="431" r="15"/></g>
<g id="n-s14" class="n"><circle cx="1324" cy="488" r="18"/></g>
<g id="n-s15" class="n"><circle class="or" cx="1387" cy="594" r="13"/></g>
<g id="n-s16" class="n"><circle cx="1314" cy="648" r="12"/></g>
<g id="n-s17" class="n"><circle cx="1380" cy="675" r="12"/></g>
<g id="n-s18" class="n"><circle cx="1520" cy="702" r="9"/></g>
<g id="n-s19" class="n"><circle cx="1200" cy="829" r="26"/></g>
<g id="n-s20" class="n"><circle class="or" cx="1346" cy="814" r="9"/></g>
<g id="n-s21" class="n"><circle cx="1454" cy="768" r="9"/></g>
<g id="n-s22" class="n"><circle cx="1478" cy="844" r="10"/></g>
<g id="n-s23" class="n"><circle class="or" cx="1227" cy="926" r="9"/></g>
<g id="n-s24" class="n"><circle cx="1256" cy="1040" r="10"/></g>
<g id="n-s25" class="n"><circle class="or" cx="1169" cy="1124" r="9"/></g>
<g id="n-s26" class="n"><circle cx="1247" cy="1197" r="23"/></g>
<g id="n-s27" class="n"><circle cx="1485" cy="1131" r="10"/></g>
<g id="n-s28" class="n"><circle cx="1515" cy="1294" r="18"/></g>
<g id="n-s29" class="n"><circle cx="693" cy="844" r="17"/></g>
<g id="n-s30" class="n"><circle cx="812" cy="940" r="11"/></g>
<g id="n-s31" class="n"><circle cx="876" cy="986" r="12"/></g>
<g id="n-s32" class="n"><circle cx="985" cy="983" r="14"/></g>
<g id="n-s33" class="n"><circle cx="933" cy="1067" r="26"/></g>
<g id="n-s34" class="n"><circle class="or" cx="878" cy="1083" r="11"/></g>
<g id="n-s35" class="n"><circle cx="981" cy="1103" r="14"/></g>
<g id="n-s36" class="n"><circle class="or" cx="1039" cy="1163" r="9"/></g>
<g id="n-s37" class="n"><circle cx="423" cy="1161" r="24"/></g>
<g id="n-s38" class="n"><circle cx="950" cy="393" r="11"/></g>
<g id="n-s39" class="n"><circle cx="781" cy="458" r="12"/></g>
<g id="n-s40" class="n"><circle cx="751" cy="551" r="16"/></g>
<g id="n-s41" class="n"><circle cx="715" cy="636" r="12"/></g>
<g id="n-s42" class="n"><circle cx="775" cy="759" r="9"/></g>
<g id="n-s43" class="n"><circle class="or" cx="781" cy="803" r="10"/></g>
</g>
</svg>
